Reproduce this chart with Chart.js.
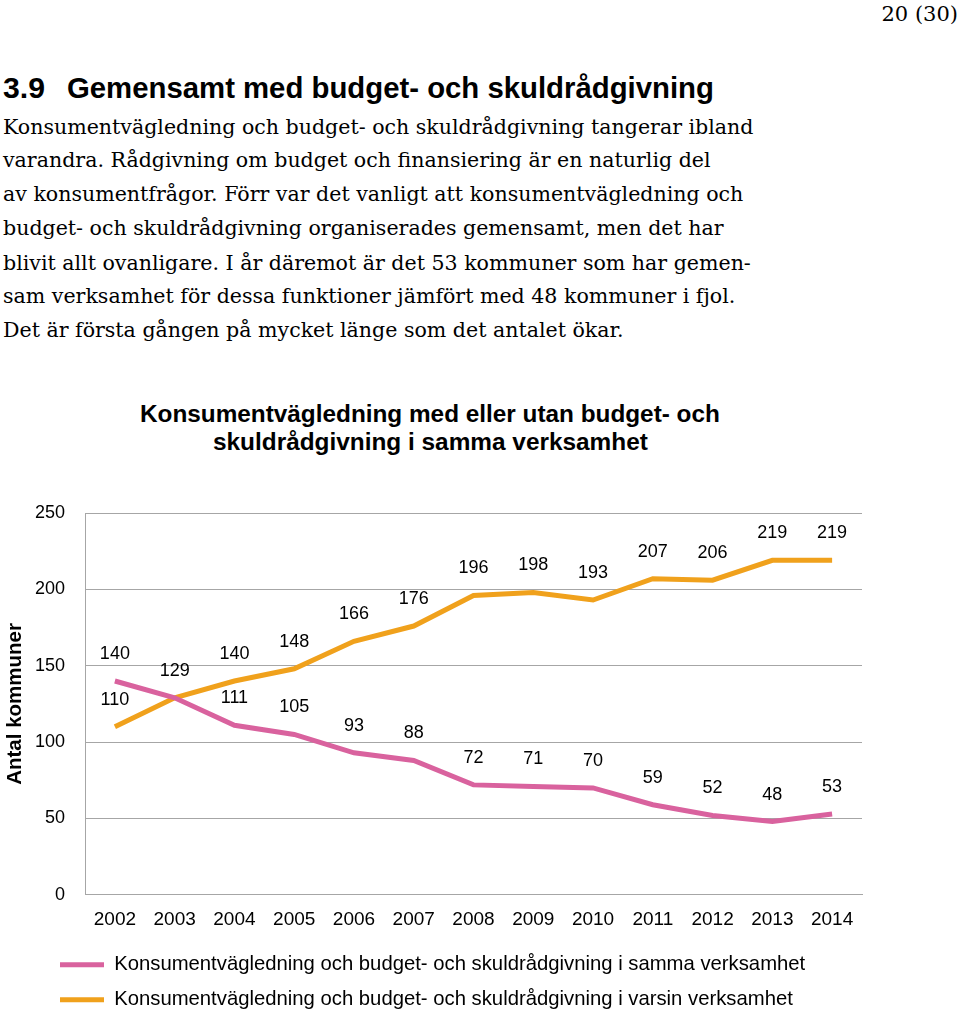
<!DOCTYPE html>
<html>
<head>
<meta charset="utf-8">
<script src="https://cdn.jsdelivr.net/npm/chart.js@4.4.0/dist/chart.umd.min.js"></script>
<style>
  html, body { margin: 0; padding: 0; background: #fff; width: 960px; height: 1012px; overflow: hidden; }
  .t { position: absolute; white-space: nowrap; color: #000; line-height: 1; }
  .serif { font-family: "DejaVu Serif", "Liberation Serif", serif; }
  .sans { font-family: "Liberation Sans", Arial, sans-serif; font-weight: bold; }
  #chartwrap { position: absolute; left: 0; top: 478px; width: 960px; height: 542px; }
</style>
</head>
<body>
<div id="page"></div>
<div id="chartwrap"><canvas id="c" width="960" height="542"></canvas></div>
<script>
// ---- Data ----
const years = ["2002","2003","2004","2005","2006","2007","2008","2009","2010","2011","2012","2013","2014"];
const sammaVerksamhet = [140,129,111,105,93,88,72,71,70,59,52,48,53];
const varsinVerksamhet = [110,129,140,148,166,176,196,198,193,207,206,219,219];
const yTicks = [0,50,100,150,200,250];
const seriesNames = [
  "Konsumentvägledning och budget- och skuldrådgivning i samma verksamhet",
  "Konsumentvägledning och budget- och skuldrådgivning i varsin verksamhet"
];
const chartTitle = ["Konsumentvägledning med eller utan budget- och", "skuldrådgivning i samma verksamhet"];
const yTitle = "Antal kommuner";
const bodyLines = [
  "Konsumentvägledning och budget- och skuldrådgivning tangerar ibland",
  "varandra. Rådgivning om budget och finansiering är en naturlig del",
  "av konsumentfrågor. Förr var det vanligt att konsumentvägledning och",
  "budget- och skuldrådgivning organiserades gemensamt, men det har",
  "blivit allt ovanligare. I år däremot är det 53 kommuner som har gemen-",
  "sam verksamhet för dessa funktioner jämfört med 48 kommuner i fjol.",
  "Det är första gången på mycket länge som det antalet ökar."
];

// ---- Page text ----
const page = document.getElementById('page');
function addText(txt, cls, left, centerY, targetW, size) {
  const d = document.createElement('div');
  d.className = 't ' + cls;
  d.textContent = txt;
  d.style.fontSize = '100px';
  page.appendChild(d);
  let fs = size;
  if (targetW) { fs = 100 * targetW / d.getBoundingClientRect().width; }
  d.style.fontSize = fs + 'px';
  const h = d.getBoundingClientRect().height;
  d.style.top = (centerY - h / 2) + 'px';
  if (left === 'right') { d.style.right = '2px'; } else { d.style.left = left + 'px'; }
  return fs;
}
addText("20 (30)", 'serif', 'right', 14, 0, 21);
addText("3.9", 'sans', 3, 88, 42);
addText("Gemensamt med budget- och skuldrådgivning", 'sans', 67, 88, 647);
const probe = document.createElement('span');
probe.className = 't serif'; probe.style.fontSize = '100px'; probe.textContent = bodyLines[0];
page.appendChild(probe);
const bodyFs = 100 * 751 / probe.getBoundingClientRect().width;
page.removeChild(probe);
const bodyY = [127, 160, 194, 228, 263, 296, 330];
bodyLines.forEach((l, i) => addText(l, 'serif', 3, bodyY[i], 0, bodyFs));
addText(chartTitle[0], 'sans', 140, 414, 580);
addText(chartTitle[1], 'sans', 213, 442, 435);

// ---- Chart ----
const PINK = '#d9629e';
const ORANGE = '#f0a11c';
const FAM = '"Liberation Sans", Arial, sans-serif';

const valueLabels = {
  id: 'valueLabels',
  afterDatasetsDraw(chart) {
    const ctx = chart.ctx;
    ctx.save();
    ctx.font = '18px ' + FAM;
    ctx.fillStyle = '#000';
    ctx.textAlign = 'center';
    ctx.textBaseline = 'middle';
    const drawn = new Set();
    chart.data.datasets.forEach((ds, di) => {
      const meta = chart.getDatasetMeta(di);
      meta.data.forEach((pt, i) => {
        const key = ds.data[i] + '@' + Math.round(pt.x) + ',' + Math.round(pt.y);
        if (drawn.has(key)) return;
        drawn.add(key);
        ctx.fillText(String(ds.data[i]), pt.x, pt.y - 27);
      });
    });
    ctx.restore();
  }
};
const legendShift = {
  id: 'legendShift',
  afterLayout(chart) {
    const lg = chart.legend;
    if (lg) { const p = lg.options.labels.padding; lg.left = 60 - p; }
  }
};

new Chart(document.getElementById('c'), {
  type: 'line',
  data: {
    labels: years,
    datasets: [
      { label: seriesNames[0], data: sammaVerksamhet, borderColor: PINK, backgroundColor: PINK, borderWidth: 5, pointRadius: 0, tension: 0, fill: false },
      { label: seriesNames[1], data: varsinVerksamhet, borderColor: ORANGE, backgroundColor: ORANGE, borderWidth: 5, pointRadius: 0, tension: 0, fill: false }
    ]
  },
  options: {
    responsive: false,
    animation: false,
    layout: { padding: { top: 35, right: 98, left: 0, bottom: 0 } },
    plugins: {
      title: { display: false },
      tooltip: { enabled: false },
      legend: {
        display: true,
        position: 'bottom',
        align: 'start',
        labels: {
          boxWidth: 44,
          boxHeight: 5,
          padding: 14.7,
          color: '#000',
          font: { family: FAM, size: 20.3 },
          generateLabels(chart) {
            return chart.data.datasets.map((ds, i) => ({
              text: ds.label, fillStyle: ds.borderColor, strokeStyle: ds.borderColor,
              lineWidth: 0, hidden: false, datasetIndex: i, fontColor: '#000'
            }));
          }
        }
      }
    },
    scales: {
      x: {
        offset: true,
        afterFit(scale) { scale.height = 45.15; },
        grid: { display: false, drawTicks: false },
        border: { display: true, color: '#a6a6a6', width: 1 },
        ticks: { color: '#000', font: { family: FAM, size: 19 }, padding: 14, maxRotation: 0, autoSkip: false }
      },
      y: {
        min: 0, max: 250,
        afterBuildTicks(scale) { scale.ticks = yTicks.map(v => ({ value: v })); },
        afterFit(scale) { scale.width = 85; },
        grid: { color: '#a6a6a6', lineWidth: 1, drawTicks: false },
        border: { display: true, color: '#a6a6a6', width: 1 },
        ticks: { color: '#000', font: { family: FAM, size: 18 }, padding: 20 },
        title: { display: true, text: yTitle, color: '#000', font: { family: FAM, size: 20.5, weight: 'bold' }, padding: { top: 3, bottom: 0 } }
      }
    }
  },
  plugins: [valueLabels, legendShift]
});
</script>
</body>
</html>
